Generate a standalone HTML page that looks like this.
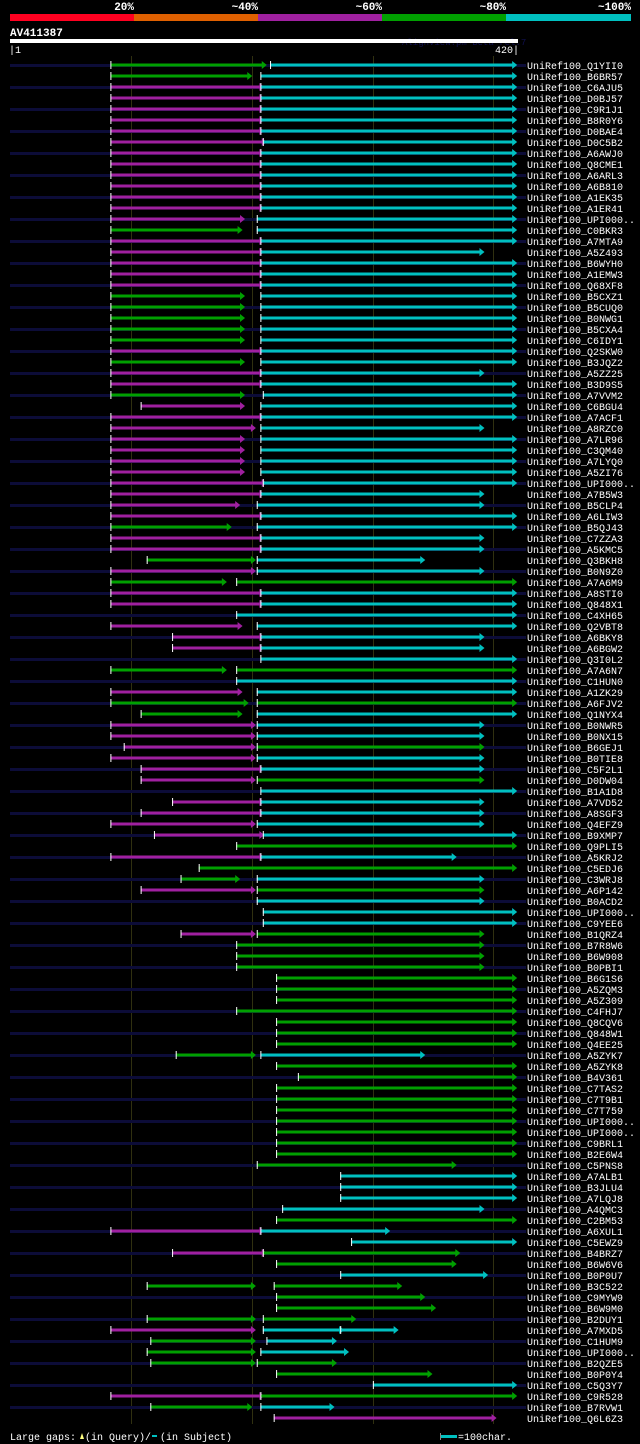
<!DOCTYPE html>
<html><head><meta charset="utf-8"><style>
html,body{margin:0;padding:0;background:#000;}
svg{display:block;font-family:"Liberation Mono","DejaVu Sans Mono",monospace;}
</style></head><body>
<svg id="chart" width="640" height="1444" viewBox="0 0 640 1444" xmlns="http://www.w3.org/2000/svg">
<rect x="0" y="0" width="640" height="1444" fill="#000"/>
<g font-size="11" font-weight="bold" fill="#fff" text-anchor="end">
<rect x="10" y="14" width="124" height="7" fill="#ff0020"/>
<rect x="134" y="14" width="124" height="7" fill="#e06000"/>
<rect x="258" y="14" width="124" height="7" fill="#a020a0"/>
<rect x="382" y="14" width="124" height="7" fill="#00a000"/>
<rect x="506" y="14" width="125" height="7" fill="#00c0c0"/>
<text x="134" y="10">20%</text><text x="258" y="10">~40%</text><text x="382" y="10">~60%</text><text x="506" y="10">~80%</text><text x="631" y="10">~100%</text>
</g>
<text x="10" y="36" font-size="11" font-weight="bold" fill="#fff">AV411387</text>
<text x="402" y="45" font-size="9" fill="#101050">AlignView.pm Beta rel.7</text>
<rect x="10" y="39" width="508" height="4" fill="#fff"/>
<text x="9" y="53" font-size="10" fill="#fff">|1</text>
<text x="519" y="53" font-size="10" fill="#fff" text-anchor="end">420|</text>
<g id="grid"></g>
<g id="rows"></g>
<g font-size="10" fill="#fff">
<text x="10" y="1440">Large gaps:</text>
<polygon points="80,1439 82,1433 84,1439" fill="#ffff80"/>
<text x="85" y="1440">(in Query)/</text>
<rect x="152" y="1435" width="5" height="2" fill="#00c0c0"/>
<text x="160" y="1440">(in Subject)</text>
<rect x="440" y="1433" width="1" height="7" fill="#888"/>
<rect x="441" y="1435" width="16" height="3" fill="#00c0c0"/>
<text x="458" y="1440">=100char.</text>
</g>
</svg>
<script>
const queryLen = 420;
const gridTicks = [101, 201, 301, 400];
const labels = ["Q1YII0","B6BR57","C6AJU5","D0BJ57","C9R1J1","B8R0Y6","D0BAE4","D0C5B2","A6AWJ0","Q8CME1","A6ARL3","A6B810","A1EK35","A1ER41","UPI000..","C0BKR3","A7MTA9","A5Z493","B6WYH0","A1EMW3","Q68XF8","B5CXZ1","B5CUQ0","B0NWG1","B5CXA4","C6IDY1","Q2SKW0","B3JQZ2","A5ZZ25","B3D9S5","A7VVM2","C6BGU4","A7ACF1","A8RZC0","A7LR96","C3QM40","A7LYQ0","A5ZI76","UPI000..","A7B5W3","B5CLP4","A6LIW3","B5QJ43","C7ZZA3","A5KMC5","Q3BKH8","B0N9Z0","A7A6M9","A8STI0","Q848X1","C4XH65","Q2VBT8","A6BKY8","A6BGW2","Q3I0L2","A7A6N7","C1HUN0","A1ZK29","A6FJV2","Q1NYX4","B0NWR5","B0NX15","B6GEJ1","B0TIE8","C5F2L1","D0DW04","B1A1D8","A7VD52","A8SGF3","Q4EFZ9","B9XMP7","Q9PLI5","A5KRJ2","C5EDJ6","C3WRJ8","A6P142","B0ACD2","UPI000..","C9YEE6","B1QRZ4","B7R8W6","B6W908","B0PBI1","B6G1S6","A5ZQM3","A5Z309","C4FHJ7","Q8CQV6","Q848W1","Q4EE25","A5ZYK7","A5ZYK8","B4V361","C7TAS2","C7T9B1","C7T759","UPI000..","UPI000..","C9BRL1","B2E6W4","C5PNS8","A7ALB1","B3JLU4","A7LQJ8","A4QMC3","C2BM53","A6XUL1","C5EWZ9","B4BRZ7","B6W6V6","B0P0U7","B3C522","C9MYW9","B6W9M0","B2DUY1","A7MXD5","C1HUM9","UPI000..","B2QZE5","B0P0Y4","C5Q3Y7","C9R528","B7RVW1","Q6L6Z3"];
const hits = [
"G84-210,C216-417","G84-198,C208-417","M84-208,C208-417","M84-208,C208-417","M84-208,C208-417","M84-208,C208-417","M84-208,C208-417","M84-210,C210-417","M84-208,C208-417","M84-208,C208-417",
"M84-208,C208-417","M84-208,C208-417","M84-208,C208-417","M84-208,C208-417","M84-192,C205-417","G84-190,C205-417","M84-208,C208-417","M84-208,C208-390","M84-208,C208-417","M84-208,C208-417",
"M84-208,C208-417","G84-192,C208-417","G84-192,C208-417","G84-192,C208-417","G84-192,C208-417","G84-192,C208-417","M84-208,C208-417","G84-192,C208-417","M84-208,C208-390","M84-208,C208-417",
"G84-192,C210-417","M109-192,C208-417","M84-208,C208-417","M84-201,C208-390","M84-192,C208-417","M84-192,C208-417","M84-192,C208-417","M84-192,C208-417","M84-210,C210-417","M84-208,C208-390",
"M84-188,C205-390","M84-208,C208-417","G84-181,C205-417","M84-208,C208-390","M84-208,C208-390","G114-201,C205-341","M84-201,C205-390","G84-177,G188-417","M84-208,C208-417","M84-208,C208-417",
"C188-417","M84-190,C205-417","M135-208,C208-390","M135-208,C208-390","C208-417","G84-177,G188-417","C188-417","M84-190,C205-417","G84-195,G205-417","G109-190,C205-417",
"M84-201,C205-390","M84-201,C205-390","M95-201,G205-390","M84-201,C205-390","M109-208,C208-390","M109-201,G205-390","C208-417","M135-208,C208-390","M109-208,C208-390","M84-201,C205-390",
"M120-208,C210-417","G188-417","M84-208,C208-367","G157-417","G142-188,C205-390","M109-201,G205-390","C205-390","C210-417","C210-417","M142-201,G205-390",
"G188-390","G188-390","G188-390","G221-417","G221-417","G221-417","G188-417","G221-417","G221-417","G221-417",
"G138-201,C208-341","G221-417","G239-417","G221-417","G221-417","G221-417","G221-417","G221-417","G221-417","G221-417",
"G205-367","C274-417","C274-417","C274-417","C226-390","G221-417","M84-208,C208-312","C283-417","M135-210,G210-370","G221-367",
"C274-393","G114-201,G219-322","G221-341","G221-350","G114-201,G210-284","M84-201,C210-274,C274-319","G117-201,C213-268","G114-201,C208-278","G117-201,G205-268","G221-347",
"C301-417","M84-208,G208-417","G117-198,C208-266","M219-400"
];
const NS = "http://www.w3.org/2000/svg";
const colors = {G:"#00a000", C:"#00c0c0", M:"#a020a0"};
function xScale(v){ return 10 + (v - 1) * (508 / queryLen); }
function yRow(i){ return 65 + i * 11; }
const grid = document.getElementById('grid');
gridTicks.forEach(function(t){
  const l = document.createElementNS(NS,'rect');
  
  
  l.setAttribute('x', Math.round(xScale(t))); l.setAttribute('y', 56);
  l.setAttribute('width', 1); l.setAttribute('height', 1368);
  l.setAttribute('fill', '#303010');
  grid.appendChild(l);
});
const rows = document.getElementById('rows');
labels.forEach(function(lab, i){
  const g = document.createElementNS(NS,'g');
  
  
  const y = yRow(i);
  if (i % 2 === 0) {
    const bg = document.createElementNS(NS,'rect');
    
    
    bg.setAttribute('x', 10); bg.setAttribute('y', y - 1); bg.setAttribute('width', 516); bg.setAttribute('height', 3);
    bg.setAttribute('fill', '#0c0c38');
    g.appendChild(bg);
  }
  hits[i].split(',').forEach(function(s){
    const c = colors[s[0]];
    const p = s.slice(1).split('-').map(Number);
    const x1 = xScale(p[0]), x2 = xScale(p[1]);
    const seg = document.createElementNS(NS,'rect');
    
    
    seg.setAttribute('x', x1); seg.setAttribute('y', y - 1.5); seg.setAttribute('width', Math.max(1, x2 - x1)); seg.setAttribute('height', 3);
    seg.setAttribute('fill', c);
    g.appendChild(seg);
    const tk = document.createElementNS(NS,'rect');
    
    
    tk.setAttribute('x', x1); tk.setAttribute('y', y - 4); tk.setAttribute('width', 1); tk.setAttribute('height', 8);
    tk.setAttribute('fill', '#fff');
    g.appendChild(tk);
    const ar = document.createElementNS(NS,'polygon');
    
    
    ar.setAttribute('points', (x2-1)+','+(y-4)+' '+(x2+4)+','+y+' '+(x2-1)+','+(y+4));
    ar.setAttribute('fill', c);
    g.appendChild(ar);
  });
  const t = document.createElementNS(NS,'text');
  
  
  t.setAttribute('x', 527); t.setAttribute('y', y + 4);
  t.setAttribute('font-size', '10'); t.setAttribute('fill', '#fff');
  t.textContent = 'UniRef100_' + lab;
  g.appendChild(t);
  rows.appendChild(g);
});
</script>
</body></html>
